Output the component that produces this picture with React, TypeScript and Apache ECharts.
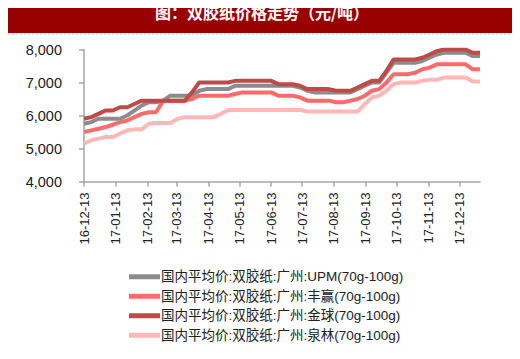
import React, { useEffect, useRef } from "react";
import * as echarts from "echarts";

const titleText = "图：双胶纸价格走势（元/吨）";

const dates = [
  "2016-12-13", "2016-12-20", "2016-12-27", "2017-01-03", "2017-01-10", "2017-01-17", "2017-01-24",
  "2017-01-31", "2017-02-07", "2017-02-14", "2017-02-21", "2017-02-28", "2017-03-07", "2017-03-14",
  "2017-03-21", "2017-03-28", "2017-04-04", "2017-04-11", "2017-04-18", "2017-04-25", "2017-05-02",
  "2017-05-09", "2017-05-16", "2017-05-23", "2017-05-30", "2017-06-06", "2017-06-13", "2017-06-20",
  "2017-06-27", "2017-07-04", "2017-07-11", "2017-07-18", "2017-07-25", "2017-08-01", "2017-08-08",
  "2017-08-15", "2017-08-22", "2017-08-29", "2017-09-05", "2017-09-12", "2017-09-19", "2017-09-26",
  "2017-10-03", "2017-10-10", "2017-10-17", "2017-10-24", "2017-10-31", "2017-11-07", "2017-11-14",
  "2017-11-21", "2017-11-28", "2017-12-05", "2017-12-12", "2017-12-19", "2017-12-26", "2018-01-02",
];

const tickDates = [
  "2016-12-13", "2017-01-13", "2017-02-13", "2017-03-13", "2017-04-13", "2017-05-13", "2017-06-13",
  "2017-07-13", "2017-08-13", "2017-09-13", "2017-10-13", "2017-11-13", "2017-12-13",
];

const upm = [
  5750, 5800, 5900, 5900, 5900, 5900, 6000, 6150, 6300, 6400, 6400, 6450, 6600, 6600,
  6600, 6600, 6750, 6800, 6800, 6800, 6800, 6900, 6900, 6900, 6900, 6900, 6900, 6900,
  6900, 6900, 6850, 6750, 6700, 6700, 6700, 6700, 6700, 6700, 6800, 6900, 7000, 7000,
  7300, 7600, 7600, 7600, 7600, 7650, 7750, 7850, 7900, 7900, 7900, 7900, 7800, 7800,
];

const fengying = [
  5500, 5550, 5600, 5650, 5720, 5800, 5850, 5950, 6050, 6100, 6100, 6450, 6450, 6450,
  6450, 6500, 6600, 6600, 6600, 6600, 6600, 6650, 6700, 6700, 6700, 6700, 6700, 6600,
  6600, 6600, 6550, 6450, 6450, 6450, 6450, 6400, 6400, 6450, 6500, 6600, 6750, 6800,
  7000, 7250, 7250, 7250, 7300, 7400, 7450, 7550, 7550, 7550, 7550, 7550, 7400, 7400,
];

const jinqiu = [
  5900, 5950, 6050, 6150, 6150, 6250, 6250, 6350, 6450, 6450, 6450, 6450, 6450, 6450,
  6450, 6700, 7000, 7000, 7000, 7000, 7000, 7050, 7050, 7050, 7050, 7050, 7050, 6950,
  6950, 6950, 6900, 6800, 6800, 6800, 6800, 6750, 6750, 6750, 6850, 6950, 7050, 7050,
  7350, 7700, 7700, 7700, 7700, 7750, 7850, 7950, 8000, 8000, 8000, 8000, 7900, 7900,
];

const quanlin = [
  5150, 5250, 5300, 5350, 5350, 5450, 5550, 5580, 5580, 5750, 5770, 5770, 5770, 5900,
  5950, 5950, 5950, 5950, 5950, 6050, 6170, 6170, 6170, 6170, 6170, 6170, 6170, 6170,
  6170, 6170, 6170, 6120, 6120, 6120, 6120, 6120, 6120, 6120, 6120, 6350, 6550, 6600,
  6750, 6950, 7000, 7000, 7000, 7050, 7080, 7080, 7150, 7150, 7150, 7150, 7030, 7030,
];

const seriesNames = [
  "国内平均价:双胶纸:广州:UPM(70g-100g)",
  "国内平均价:双胶纸:广州:丰赢(70g-100g)",
  "国内平均价:双胶纸:广州:金球(70g-100g)",
  "国内平均价:双胶纸:广州:泉林(70g-100g)",
];
const seriesData = [upm, fengying, jinqiu, quanlin];
const colors = ["#8C8C8C", "#FF6B6B", "#BE4B48", "#FFB8B8"];

const yMin = 4000;
const yMax = 8000;
const yInterval = 1000;

const FONT = "'Liberation Sans', 'Noto Sans CJK SC', sans-serif";

export default function App() {
  const ref = useRef<HTMLDivElement>(null);
  useEffect(() => {
    if (!ref.current) return;
    const chart = echarts.init(ref.current, undefined, { renderer: "svg" });
    const toTime = (s: string) => new Date(s + "T00:00:00Z").getTime();
    const pad = (n: number) => (n < 10 ? "0" + n : "" + n);
    const tickTimes = tickDates.map(toTime);
    chart.setOption({
      animation: false,
      backgroundColor: "#ffffff",
      graphic: [
        {
          type: "rect",
          shape: { x: 0, y: 0, width: 520, height: 33 },
          style: { fill: "#990000" },
          z: -10,
          silent: true,
        },
        {
          type: "line",
          shape: { x1: 0, y1: 34, x2: 520, y2: 34 },
          style: { stroke: "#9DB9F0", lineWidth: 1, lineDash: [2, 2] },
          z: -10,
        },
        {
          type: "text",
          x: 262,
          y: 11.8,
          style: {
            text: titleText,
            fill: "#ffffff",
            fontSize: 16,
            fontWeight: "bold",
            fontFamily: "'Noto Sans CJK SC', sans-serif",
            align: "center",
            verticalAlign: "middle",
          },
          z: 10,
        },
      ],
      grid: { left: 84, right: 40, top: 49.5, bottom: 177.5, containLabel: false },
      legend: {
        orient: "vertical",
        left: 124,
        top: 265,
        itemWidth: 31,
        itemHeight: 5,
        itemGap: 6,
        icon: "rect",
        textStyle: { fontSize: 13.5, color: "#222", fontFamily: FONT, padding: [0, 0, 0, -4] },
        data: seriesNames,
      },
      xAxis: {
        type: "value",
        min: toTime(dates[0]),
        max: toTime(dates[dates.length - 1]),
        axisLine: { lineStyle: { color: "#A6A6A6", width: 1.5 } },
        axisTick: {
          show: true,
          length: 5,
          lineStyle: { color: "#A6A6A6", width: 1.5 },
          customValues: tickTimes,
        },
        axisLabel: {
          rotate: 90,
          margin: 11,
          fontSize: 13,
          color: "#222",
          fontFamily: FONT,
          customValues: tickTimes,
          formatter: (v: number) => {
            const d = new Date(v);
            return (
              pad(d.getUTCFullYear() % 100) + "-" + pad(d.getUTCMonth() + 1) + "-" + pad(d.getUTCDate())
            );
          },
        },
        splitLine: { show: false },
      },
      yAxis: {
        type: "value",
        min: yMin,
        max: yMax,
        interval: yInterval,
        axisLine: { show: true, lineStyle: { color: "#A6A6A6", width: 1.5 } },
        axisTick: { show: true, length: 5, lineStyle: { color: "#A6A6A6", width: 1.5 } },
        axisLabel: {
          fontSize: 14.5,
          color: "#1a1a1a",
          margin: 22,
          fontFamily: FONT,
          formatter: (v: number) => v.toLocaleString("en-US"),
        },
        splitLine: { show: false },
      },
      series: seriesNames.map((name, i) => ({
        name,
        type: "line",
        data: dates.map((d, j) => [toTime(d), seriesData[i][j]]),
        showSymbol: false,
        symbol: "none",
        lineStyle: { color: colors[i], width: 4 },
        itemStyle: { color: colors[i] },
        z: i === 2 ? 5 : 3,
      })),
    });
    return () => chart.dispose();
  }, []);
  return <div ref={ref} style={{ width: 520, height: 359, marginLeft: -8, marginTop: -8 }} />;
}
